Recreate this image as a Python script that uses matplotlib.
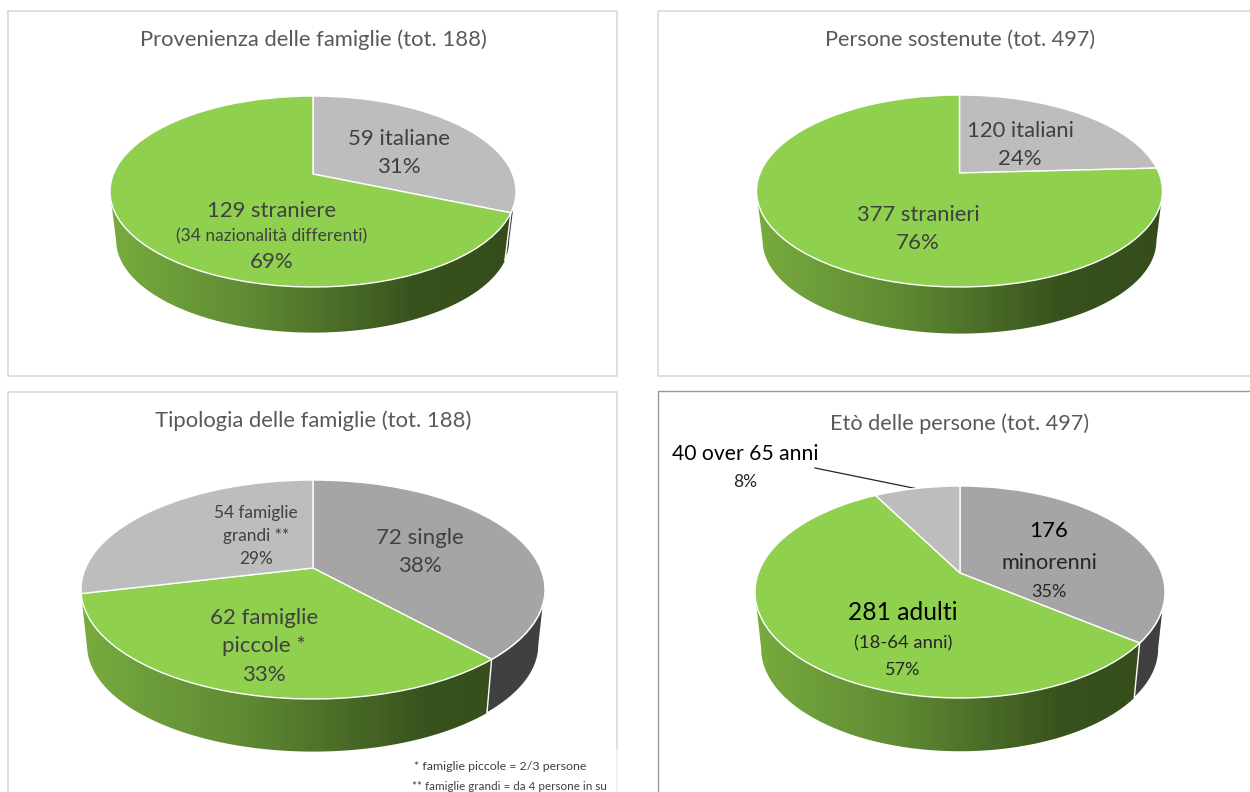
import numpy as np
import matplotlib
matplotlib.use('Agg')
import matplotlib.pyplot as plt
from matplotlib.colors import LinearSegmentedColormap
from matplotlib.patches import Polygon
from matplotlib.transforms import Transform

plt.rcParams['font.family'] = ['Lato', 'DejaVu Sans']

# valori
provenienza_values = [59, 129]
sostenute_values = [120, 377]
tipologia_values = [72, 62, 54]
eta_values = [176, 281, 40]

provenienza_title = 'Provenienza delle famiglie (tot. 188)'
sostenute_title = 'Persone sostenute (tot. 497)'
tipologia_title = 'Tipologia delle famiglie (tot. 188)'
eta_title = 'Etò delle persone (tot. 497)'

GREEN = '#90D04F'
GRAY_L = '#BDBDBD'
GRAY_M = '#A5A5A5'
DARK_SIDE = '#404040'
TEXT = '#404040'
TITLE = '#595959'

side_cmap = LinearSegmentedColormap.from_list(
    'side', [(0, '#78AB3F'), (0.35, '#5F8A33'), (0.75, '#38521D'), (1, '#344D1B')])


class Persp(Transform):
    # disco unitario -> pixel, con prospettiva (il retro e' schiacciato)
    input_dims = 2
    output_dims = 2

    def __init__(self, cx, cy, a, b, k):
        super().__init__()
        self.cx, self.cy, self.a, self.b, self.k = cx, cy, a, b, k

    def transform_non_affine(self, values):
        values = np.asarray(values)
        w = 1 + self.k * values[:, 1]
        return np.column_stack((self.cx + self.a * values[:, 0] / w,
                                self.cy - self.b * values[:, 1] / w))


fig = plt.figure(figsize=(12.5, 7.92), dpi=100)
ax = fig.add_axes([0, 0, 1, 1])


def pie3d(values, colors, side_colors, cx, cy, half_w, back, front, depth, shrink):
    k = (front - back) / (front + back)
    top = Persp(cx, cy, half_w * np.sqrt(1 - k ** 2), back * (1 + k), k)
    low = Persp(cx, cy + depth, shrink * half_w * np.sqrt(1 - k ** 2),
                shrink * back * (1 + k), k)
    wedges, _ = ax.pie(values, colors=colors, startangle=90, counterclock=False,
                       wedgeprops={'edgecolor': 'white', 'linewidth': 1.0, 'zorder': 3})
    for wedge, side in zip(wedges, side_colors):
        wedge.set_transform(top + ax.transData)
        if side is None:
            continue
        # solo la parte frontale del bordo, tra le due tangenti
        t = np.radians(np.linspace(wedge.theta1, wedge.theta2, 400))
        t = t[np.sin(t) <= -k]
        if len(t) < 2:
            continue
        unit = np.column_stack((np.cos(t), np.sin(t)))
        verts = np.vstack((top.transform(unit), low.transform(unit)[::-1]))
        if side == 'gradient':
            poly = Polygon(verts, closed=True, facecolor='none', edgecolor='none')
            ax.add_patch(poly)
            grad = np.linspace(0, 1, 256).reshape(1, -1)
            im = ax.imshow(grad, cmap=side_cmap, aspect='auto', zorder=2,
                           extent=(cx - half_w, cx + half_w, cy + front + depth, cy - back))
            im.set_clip_path(poly)
        else:
            ax.add_patch(Polygon(verts, closed=True, facecolor=side, edgecolor='white',
                                 linewidth=1.0, zorder=2.5))


pie3d(provenienza_values, [GRAY_L, GREEN], [DARK_SIDE, 'gradient'],
      313, 174, 203, 78, 113, 49, 0.97)
pie3d(sostenute_values, [GRAY_L, GREEN], [None, 'gradient'],
      959.5, 173, 203, 78, 114, 50, 0.97)
pie3d(tipologia_values, [GRAY_M, GREEN, GRAY_L], [DARK_SIDE, 'gradient', None],
      313, 568, 232, 88, 131, 56, 0.974)
pie3d(eta_values, [GRAY_M, GREEN, GRAY_L], [DARK_SIDE, 'gradient', None],
      960, 573, 205, 87, 125, 57, 0.97)

# cornici
frame = '#D9D9D9'
ax.plot([8, 617, 617, 8, 8], [11, 11, 376, 376, 11], color=frame, lw=1.2)
ax.plot([1250, 658, 658, 1250], [11, 11, 376, 376], color=frame, lw=1.2)
ax.plot([617, 617, 8, 8], [750, 392, 392, 792], color=frame, lw=1.2)
ax.plot([617, 617], [750, 792], color='#EFEFEF', lw=1.2)
ax.plot([658, 658, 1250], [792, 391, 391], color='#999999', lw=1.0)

# titoli
ax.text(313, 40, provenienza_title, ha='center', va='center', fontsize=15.8, color=TITLE)
ax.text(960, 40, sostenute_title, ha='center', va='center', fontsize=15.6, color=TITLE)
ax.text(313, 421, tipologia_title, ha='center', va='center', fontsize=15.8, color=TITLE)
ax.text(960, 424, eta_title, ha='center', va='center', fontsize=15.6, color=TITLE)

# etichette
ax.text(399, 139, '59 italiane', ha='center', va='center', fontsize=16, color=TEXT)
ax.text(399, 167, '31%', ha='center', va='center', fontsize=16, color=TEXT)
ax.text(272, 211, '129 straniere', ha='center', va='center', fontsize=15.8, color=TEXT)
ax.text(272, 236, '(34 nazionalità differenti)', ha='center', va='center', fontsize=12.5, color=TEXT)
ax.text(272, 262, '69%', ha='center', va='center', fontsize=16, color=TEXT)

ax.text(1020, 131, '120 italiani', ha='center', va='center', fontsize=15.8, color=TEXT)
ax.text(1020, 159, '24%', ha='center', va='center', fontsize=16, color=TEXT)
ax.text(918, 215, '377 stranieri', ha='center', va='center', fontsize=15.8, color=TEXT)
ax.text(918, 243, '76%', ha='center', va='center', fontsize=16, color=TEXT)

ax.text(256, 513, '54 famiglie', ha='center', va='center', fontsize=12.4, color=TEXT)
ax.text(256, 536, 'grandi **', ha='center', va='center', fontsize=12.4, color=TEXT)
ax.text(256, 559, '29%', ha='center', va='center', fontsize=12.4, color=TEXT)
ax.text(420, 538, '72 single', ha='center', va='center', fontsize=16, color=TEXT)
ax.text(420, 566, '38%', ha='center', va='center', fontsize=16, color=TEXT)
ax.text(264, 618, '62 famiglie', ha='center', va='center', fontsize=16, color=TEXT)
ax.text(264, 646, 'piccole *', ha='center', va='center', fontsize=16, color=TEXT)
ax.text(264, 675, '33%', ha='center', va='center', fontsize=16, color=TEXT)

ax.text(1049, 531, '176', ha='center', va='center', fontsize=16, color='black')
ax.text(1049, 563, 'minorenni', ha='center', va='center', fontsize=15.6, color='#262626')
ax.text(1049, 592, '35%', ha='center', va='center', fontsize=13, color='#262626')
ax.text(903, 613, '281 adulti', ha='center', va='center', fontsize=17.7, color='black')
ax.text(903, 643, '(18-64 anni)', ha='center', va='center', fontsize=13.3, color='#262626')
ax.text(903, 670, '57%', ha='center', va='center', fontsize=13, color='#262626')
ax.text(745, 454, '40 over 65 anni', ha='center', va='center', fontsize=15.2, color='black')
ax.text(745, 482, '8%', ha='center', va='center', fontsize=12.5, color='#262626')
ax.plot([815, 918], [468, 489], color='#262626', lw=0.9)

# note
ax.text(500.5, 766, '* famiglie piccole = 2/3 persone', ha='center', va='center', fontsize=8.9, color=TEXT)
ax.text(509, 786, '** famiglie grandi = da 4 persone in su', ha='center', va='center', fontsize=8.4, color=TEXT)

ax.set_aspect('auto')
ax.set_xlim(0, 1250)
ax.set_ylim(792, 0)
ax.set_axis_off()
fig.savefig('out.png', dpi=100)
